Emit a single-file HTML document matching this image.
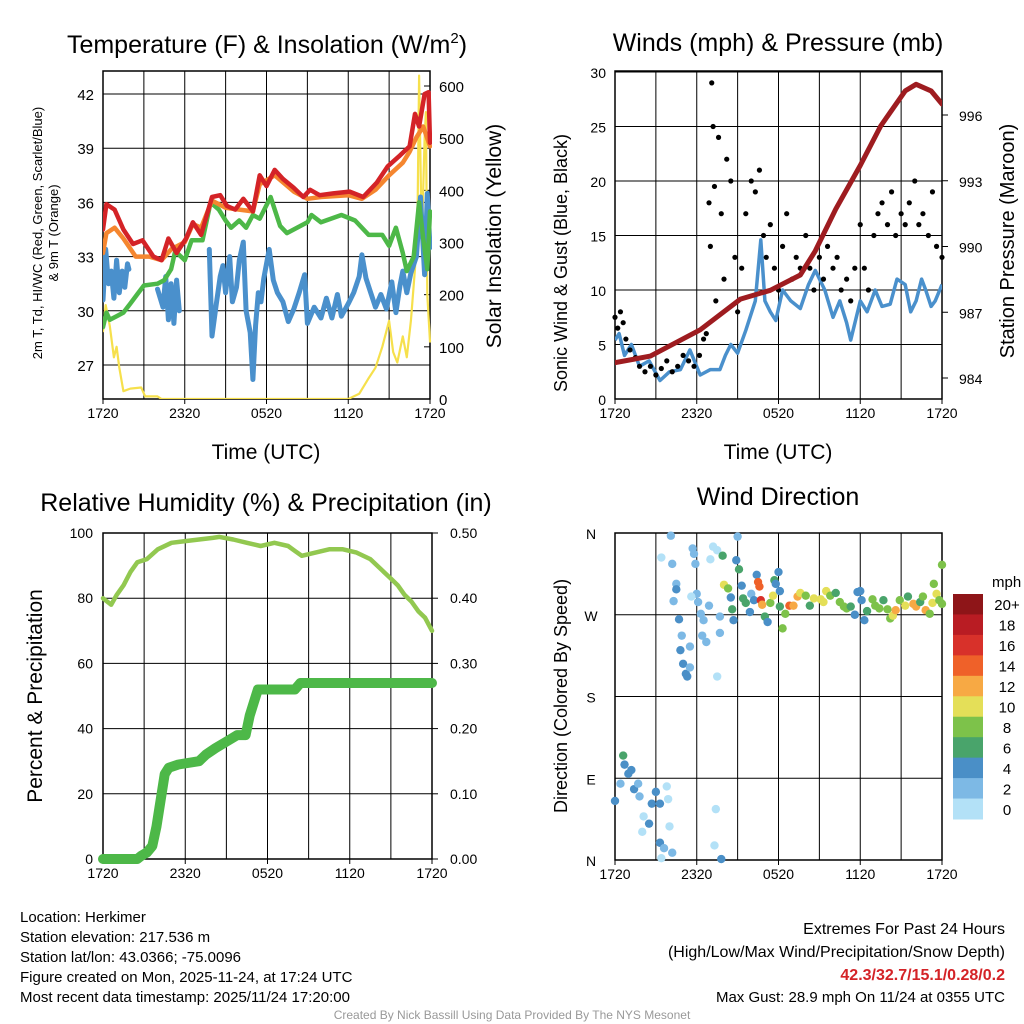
<!DOCTYPE html>
<html><head><meta charset="utf-8"><style>
body{margin:0;background:#fff}
svg{display:block;font-family:"Liberation Sans",sans-serif}
</style></head><body>
<svg id="s" width="1024" height="1024" xmlns="http://www.w3.org/2000/svg"></svg>
<script>
// ---------- DATA ----------
const timeTickLabels=["1720","2320","0520","1120","1720"];
const tempTicks=[27,30,33,36,39,42];
const solarTicks=[0,100,200,300,400,500,600];
const redH=[0,0.25,0.85,1.5,2.2,2.9,3.7,4.3,4.8,5.4,6.1,6.6,7.2,8,8.6,9.1,9.7,10.3,11,11.5,12,12.6,13.2,14,14.7,15.2,15.9,16.9,18.1,19.1,20.1,20.9,21.8,22.5,22.9,23.2,23.6,23.9,24];
const redV=[34.5,35.9,35.6,34.5,33.7,33.9,33.0,32.8,34.0,33.2,34.0,34.9,34.2,36.3,36.4,35.8,35.6,36.2,35.5,37.5,36.9,37.8,37.3,36.8,36.3,36.7,36.4,36.5,36.6,36.3,37.1,38.0,38.6,39.1,40.9,40.2,42.0,42.1,39.3];
const orH=[0,0.25,0.85,1.5,2.4,3.4,4.3,5,6,6.6,7.2,8,9,10,11,11.5,12.6,14,15,16,18,19,20,21,22,22.5,23,23.5,24];
const orV=[33.2,34.3,34.6,34.0,33.0,33.0,32.8,33.4,33.8,34.8,34.6,36.1,35.7,35.6,35.5,37.0,37.5,36.6,36.2,36.3,36.4,36.2,36.7,37.5,38.2,38.8,39.6,40.2,39.1];
const grH=[0,0.25,0.5,1,1.5,2,2.5,3,4,4.5,5,5.3,6,6.5,7.3,7.9,8.5,9,9.4,10,10.5,11,11.5,12.3,13,13.5,15,15.3,16,17.5,18.5,19.5,20.5,21,21.5,22,22.3,22.8,23.2,23.5,23.8,24];
const grV=[29.1,29.9,29.5,29.7,29.9,30.4,30.9,31.4,31.5,31.7,32.3,33.3,32.8,33.9,33.9,36.0,35.6,35.0,34.6,35.0,34.6,35.3,35.1,36.3,34.7,34.3,34.9,35.3,34.9,35.3,35.0,34.2,34.2,33.6,34.6,33.2,32.2,33.0,36.0,34.0,32.3,35.5];
const tdH=[0,0.2,0.4,0.6,0.8,1.0,1.2,1.4,1.6,1.8,1.9,null,4.0,4.4,4.6,4.8,5.0,5.2,5.4,5.6,null,7.8,8.0,8.3,8.6,8.8,9.0,9.3,9.5,9.8,10.0,10.3,10.5,10.8,11.0,11.2,11.4,11.6,11.8,12.0,12.2,12.5,12.8,13.2,13.6,14.0,14.4,14.8,15.0,15.5,16.0,16.4,16.8,17.2,17.5,18.0,18.4,18.8,19.0,19.3,19.6,20.0,20.4,20.8,21.2,21.5,21.8,22.0,22.3,22.6,23.0,23.3,23.6,23.8,24];
const tdV=[30.6,33.4,31.5,32.2,30.7,32.8,31.0,32.2,31.3,32.6,32.3,null,31.2,30.2,31.9,29.5,31.5,29.3,31.7,30.0,null,33.4,28.6,30.3,31.9,32.5,31.0,33.0,30.5,31.3,32.8,33.8,30.0,28.8,26.2,29.2,31.0,30.5,31.8,32.6,33.4,31.7,31.0,30.5,29.4,30.1,31.0,32.0,29.3,30.2,29.6,30.7,29.6,30.9,29.7,30.4,31.0,31.9,33.1,31.8,31.1,30.2,30.9,30.1,31.6,29.9,31.4,32.2,31.0,32.1,33.0,36.3,32.0,36.5,33.5];
const solH=[0,0.2,0.5,0.8,1.0,1.2,1.5,2,2.8,3.1,4,4.3,18,18.8,19.5,20,20.5,21,21.3,21.6,22,22.3,22.6,22.9,23.1,23.2,23.4,23.6,23.7,23.8,24];
const solV=[130,180,140,80,100,60,15,20,22,5,5,0,0,10,40,60,100,150,90,70,120,80,150,250,380,620,300,500,550,200,110];

const windTicks=[0,5,10,15,20,25,30];
const presTicks=[984,987,990,993,996];
const presH=[0,2.6,6.25,9.2,11.4,13.6,14.7,16.2,18.0,19.5,21.3,22.1,23.2,24];
const presV=[984.7,985.0,986.2,987.6,988.0,988.7,989.8,991.7,993.7,995.5,997.1,997.4,997.1,996.5];
const windH=[0,0.3,0.7,1.2,1.8,2.5,3.3,4.0,4.8,5.5,6.25,7.0,7.7,8.1,8.5,9.0,9.6,10.3,10.7,11.0,11.4,11.8,12.3,12.9,13.6,14.2,14.7,15.4,16.0,16.5,17.0,17.3,18.0,18.5,19.1,19.6,20.2,20.7,21.3,21.7,22.1,22.5,22.8,23.2,23.5,24];
const windV=[5.4,6,4,5,3,3.5,1.7,2.5,2.7,4.5,2.2,2.7,2.7,4,5,4.2,6.3,9,14.6,9,8,7.2,10,9,8.3,10.5,11.8,10,7.5,9,7,5.4,9,8,10,8.5,8.7,11,10.5,8,9,11,10,8.5,9,10.5];
const gustH=[0,0.2,0.4,0.6,0.8,1.1,1.5,1.8,2.2,2.6,3,3.4,3.8,4.2,4.6,5,5.4,5.8,6.2,6.5,6.7,6.9,7.0,7.1,7.2,7.3,7.4,7.6,7.8,8.0,8.2,8.5,8.8,9.0,9.3,9.6,10.0,10.3,10.6,10.9,11.1,11.4,11.7,12,12.3,12.6,13,13.3,13.6,14,14.3,14.6,15,15.3,15.6,16,16.3,16.6,17,17.3,17.6,18,18.3,18.6,19,19.3,19.6,20,20.3,20.6,21,21.3,21.6,22,22.3,22.6,23,23.3,23.6,24];
const gustV=[7.5,6.5,8,7,5.5,4.5,3.8,3,2.5,3,2.2,2.8,3.5,2.5,3,4,3.5,3,4,5.5,6,18,14,29,25,19.5,9,24,17,11,22,20,13,8,12,17,20,19,21,15,13,16,12,10,14,17,11,13,12,15,12,10,13,11,14,12,13,10,11,9,12,16,12,10,15,17,18,16,19,15,17,16,18,20,16,17,15,19,14,13];

const rhTicks=[0,20,40,60,80,100];
const pcpTicks=["0.00","0.10","0.20","0.30","0.40","0.50"];
const rhH=[0,0.3,0.6,1,1.5,2,2.5,3.2,4,5,6,7,8,8.5,9.5,10.5,11.5,12.5,13.5,14,14.5,15.5,16.5,17.5,18.5,19.5,20.5,21,21.5,22,22.5,23,23.5,24];
const rhV=[80,79,78,81,84,88,91,92,95,97,97.5,98,98.5,98.8,98,97,96,97,96,94.5,93,94,95,95,94,92,88,86,84,81,79,76,74,70];
const pcpH=[0,2.5,2.8,3.2,3.6,3.9,4.2,4.5,4.8,5.5,7,7.5,8.2,9,9.8,10.4,10.7,11,11.3,11.6,14,14.4,24];
const pcpV=[0,0,0.005,0.01,0.02,0.05,0.09,0.13,0.14,0.145,0.15,0.16,0.17,0.18,0.19,0.19,0.22,0.24,0.26,0.26,0.26,0.27,0.27];

const dirLabels=["N","E","S","W","N"];
const speedLabels=["20+","18","16","14","12","10","8","6","4","2","0"];
const speedColors=["#b3e1f7","#7db9e5","#4a8fc7","#49a46b","#7dc24a","#e4df58","#f7a944","#ef6129","#d8312a","#b91c23","#8e1518"];
const dirH=[0,0.4,0.6,0.7,0.98,1.2,1.4,1.7,1.8,2.1,2.5,2.0,2.7,3.0,3.3,3.8,3.9,4.0,3.3,3.6,3.4,4.2,3.4,4.1,4.2,4.5,4.5,4.3,4.7,4.9,4.8,5.0,5.2,5.3,5.5,5.5,5.7,5.8,5.9,6.0,5.6,6.1,6.3,6.5,6.4,6.7,6.9,7.0,7.2,7.5,7.4,7.3,7.5,7.7,7.7,7.8,7.9,8.0,8.3,8.5,8.6,8.7,8.9,9.0,9.1,9.3,9.4,9.6,9.9,10.0,10.2,10.4,10.5,10.6,10.7,10.8,11.0,11.2,11.4,11.6,11.7,11.8,12.0,12.1,12.1,12.3,12.5,12.8,13.1,13.4,13.6,14.0,14.3,14.6,15.1,15.3,15.5,15.8,16.2,16.5,16.8,17.0,17.3,17.6,17.8,18.0,18.1,18.3,18.5,18.9,19.1,19.4,19.7,20.0,20.2,20.4,20.6,20.9,21.3,21.5,21.9,22.1,22.4,22.6,22.8,23.1,23.3,23.4,23.6,23.8,24.0,24.0];
const dirV=[65,84,115,105,95,99,78,84,70,48,40,31,62,75,62,81,67,37,19,13,2,8,333,357,326,304,298,285,265,247,231,216,205,202,212,235,343,337,326,293,290,284,271,264,247,240,280,331,345,341,56,16,202,268,250,1,335,303,299,289,276,264,330,356,320,302,288,283,273,293,286,314,306,301,286,281,268,262,283,291,308,304,317,296,279,255,271,280,280,290,294,291,280,288,287,284,296,291,294,284,279,277,279,270,295,296,286,264,274,287,280,277,286,276,266,269,275,286,280,290,282,279,284,290,275,271,283,304,293,286,282,325];
const dirS=[4,3,6,4,4,4,4,3,2,0,4,0,4,4,4,0,0,0,4,2,0,2,0,2,2,2,4,2,4,2,4,4,4,4,2,2,2,2,2,2,0,2,2,2,2,2,2,0,0,0,0,0,0,2,2,4,6,10,8,4,6,4,4,2,6,4,6,6,4,2,4,4,14,14,16,12,6,4,8,10,6,4,4,4,6,8,8,14,12,12,10,8,6,10,10,10,10,8,6,8,8,8,6,4,4,4,4,4,6,8,8,8,6,8,8,10,12,8,10,6,12,12,6,8,12,8,10,8,10,8,8,8];

// ---------- DRAW ----------
const NS="http://www.w3.org/2000/svg";
const svg=document.getElementById('s');
function el(tag,attrs,parent,text){const e=document.createElementNS(NS,tag);for(const k in attrs)e.setAttribute(k,attrs[k]);if(text!==undefined)e.textContent=text;(parent||svg).appendChild(e);return e;}
function grp(name){const g=document.createElementNS(NS,'g');


svg.appendChild(g);return g;}
function pathD(hs,vs,xf,yf){let d="",pen=false;for(let i=0;i<hs.length;i++){if(hs[i]===null){pen=false;continue;}d+=(pen?"L":"M")+xf(hs[i]).toFixed(1)+","+yf(vs[i]).toFixed(1);pen=true;}return d;}
function lin(d0,d1,r0,r1){return v=>r0+(v-d0)*(r1-r0)/(d1-d0);}

function frame(g,x0,y0,x1,y1,hGrid){
  for(let i=0;i<=8;i++){const x=x0+(x1-x0)*i/8;const l=el('line',{x1:x,y1:y0,x2:x,y2:y1,stroke:'#000','stroke-width':1},g);
    
    }
  hGrid.forEach(y=>{const l=el('line',{x1:x0,y1:y,x2:x1,y2:y,stroke:'#000','stroke-width':1},g);
    
    });
  const r=el('rect',{x:x0,y:y0,width:x1-x0,height:y1-y0,fill:'none',stroke:'#000','stroke-width':1.5},g);
  
  
  timeTickLabels.forEach((t,i)=>{const x=x0+(x1-x0)*i/4;const tx=el('text',{x:x,y:y1+19,'font-size':14,'text-anchor':'middle'},g,t);
    
    
    el('line',{x1:x,y1:y1,x2:x,y2:y1+5,stroke:'#000'},g);});
}
function txt(g,name,x,y,s,size,opts){const a=Object.assign({x:x,y:y,'font-size':size},opts||{});const t=el('text',a,g,s);
  
  return t;}
function vtxt(g,name,x,y,s,size,rot){const t=el('text',{x:0,y:0,'font-size':size,'text-anchor':'middle',transform:`translate(${x},${y}) rotate(${rot})`},g,s);
  
  return t;}

// Panel 1
(function(){
 const g=grp('temperature-panel');
 const x0=103,x1=430,y0=71,y1=399;
 const X=lin(0,24,x0,x1), Y=lin(27,42,365,94), S=lin(0,600,399,86);
 frame(g,x0,y0,x1,y1,tempTicks.map(Y));
 tempTicks.forEach(t=>{txt(g,'temp-tick-label',x0-9,Y(t)+6,String(t),15,{'text-anchor':'end'});});
 solarTicks.forEach(t=>{txt(g,'solar-tick-label',x1+9,S(t)+6,String(t),15,{});el('line',{x1:x1-6,y1:S(t),x2:x1,y2:S(t),stroke:'#000'},g);});
 const clip=el('clipPath',{id:'c1'},g);el('rect',{x:x0,y:y0-10,width:x1-x0+2,height:y1-y0+10},clip);
 const L=(h,v,yf,c,w,n)=>{const p=el('path',{d:pathD(h,v,X,yf),fill:'none',stroke:c,'stroke-width':w,'stroke-linejoin':'round','stroke-linecap':'round','clip-path':'url(#c1)'},g);
   
   };
 L(solH,solV,S,'#f6e04c',2.2,'solar-line');
 L(tdH,tdV,Y,'#4a90cc',5,'dewpoint-line');
 L(grH,grV,Y,'#4db848',4.5,'windchill-line');
 L(orH,orV,Y,'#f5862f',4.5,'temp-9m-line');
 L(redH,redV,Y,'#d42327',4.5,'temp-2m-line');
 const t=txt(g,'temp-panel-title',267,53,'Temperature (F) & Insolation (W/m',25,{'text-anchor':'middle'});
 const sup=el('tspan',{'font-size':15,dy:-10},t,'2');
 el('tspan',{'font-size':25,dy:10},t,')');
 vtxt(g,'temp-axis-title',42,233,'2m T, Td, HI/WC (Red, Green, Scarlet/Blue)',13,-90);
 vtxt(g,'temp-axis-title-2',58,233,'& 9m T (Orange)',13,-90);
 vtxt(g,'solar-axis-title',501,236,'Solar Insolation (Yellow)',21,-90);
 txt(g,'time-axis-title',266,459,'Time (UTC)',21,{'text-anchor':'middle'});
})();

// Panel 2
(function(){
 const g=grp('wind-panel');
 const x0=615,x1=942,y0=71,y1=399;
 const X=lin(0,24,x0,x1), Y=lin(0,30,399,72), P=lin(984,996,378,115);
 frame(g,x0,y0,x1,y1,windTicks.map(Y));
 windTicks.forEach(t=>txt(g,'wind-tick-label',x0-9,Y(t)+6,String(t),14,{'text-anchor':'end'}));
 presTicks.forEach(t=>{txt(g,'pressure-tick-label',x1+17,P(t)+6,String(t),14,{});el('line',{x1:x1,y1:P(t),x2:x1+6,y2:P(t),stroke:'#000'},g);});
 const clip=el('clipPath',{id:'c2'},g);el('rect',{x:x0,y:y0,width:x1-x0,height:y1-y0},clip);
 const wl=el('path',{d:pathD(windH,windV,X,Y),fill:'none',stroke:'#4a90cc','stroke-width':3.5,'stroke-linejoin':'round','clip-path':'url(#c2)'},g);
 
 
 gustH.forEach((h,i)=>{const c=el('circle',{cx:X(h),cy:Y(gustV[i]),r:2.6,fill:'#000'},g);
   
   });
 const pl=el('path',{d:pathD(presH,presV,X,P),fill:'none',stroke:'#9e1c20','stroke-width':5,'stroke-linejoin':'round','stroke-linecap':'round','clip-path':'url(#c2)'},g);
 
 
 txt(g,'wind-panel-title',778,51,'Winds (mph) & Pressure (mb)',25,{'text-anchor':'middle'});
 vtxt(g,'wind-axis-title',567,263,'Sonic Wind & Gust (Blue, Black)',18,-90);
 vtxt(g,'pressure-axis-title',1014,241,'Station Pressure (Maroon)',20,-90);
 txt(g,'time-axis-title',778,459,'Time (UTC)',21,{'text-anchor':'middle'});
})();

// Panel 3
(function(){
 const g=grp('humidity-panel');
 const x0=103,x1=432,y0=533,y1=859;
 const X=lin(0,24,x0,x1), Y=lin(0,100,859,533), Q=lin(0,0.5,859,533);
 frame(g,x0,y0,x1,y1,rhTicks.map(Y));
 rhTicks.forEach(t=>txt(g,'rh-tick-label',x0-10,Y(t)+5,String(t),14,{'text-anchor':'end'}));
 pcpTicks.forEach((t,i)=>{txt(g,'precip-tick-label',x1+18,Y(i*20)+5,t,14,{});el('line',{x1:x1,y1:Y(i*20),x2:x1+6,y2:Y(i*20),stroke:'#000'},g);});
 const pl=el('path',{d:pathD(pcpH,pcpV,X,Q),fill:'none',stroke:'#4db848','stroke-width':10,'stroke-linejoin':'round','stroke-linecap':'round'},g);
 
 
 const rl=el('path',{d:pathD(rhH,rhV,X,Y),fill:'none',stroke:'#92c850','stroke-width':4.5,'stroke-linejoin':'round','stroke-linecap':'round'},g);
 
 
 txt(g,'humidity-panel-title',266,511,'Relative Humidity (%) & Precipitation (in)',25,{'text-anchor':'middle'});
 vtxt(g,'humidity-axis-title',42,696,'Percent & Precipitation',21,-90);
})();

// Panel 4
(function(){
 const g=grp('wind-direction-panel');
 const x0=615,x1=942,y0=533,y1=860;
 const X=lin(0,24,x0,x1), Y=lin(0,360,860,533);
 frame(g,x0,y0,x1,y1,[0,90,180,270,360].map(Y));
 dirLabels.forEach((t,i)=>txt(g,'direction-tick-label',x0-24,Y(i*90)+6,t,14,{'text-anchor':'middle'}));
 dirH.forEach((h,i)=>{const c=el('circle',{cx:X(h),cy:Y(dirV[i]),r:4.2,fill:speedColors[Math.min(10,Math.floor(dirS[i]/2))]},g);
   
   });
 txt(g,'direction-panel-title',778,505,'Wind Direction',25,{'text-anchor':'middle'});
 vtxt(g,'direction-axis-title',567,696,'Direction (Colored By Speed)',18,-90);
 const lg=grp('speed-colorbar');
 const bh=(819-594)/11;
 for(let i=0;i<11;i++){const y=594+i*bh;const r=el('rect',{x:953,y:y,width:30,height:bh+0.5,fill:speedColors[10-i]},lg);
   
   
   txt(lg,'colorbar-label',1007,y+bh/2+6,speedLabels[i],15,{'text-anchor':'middle'});}
 txt(lg,'colorbar-title',992,587,'mph',15,{});
})();
// ---------- footer ----------
(function(){
 const g=grp('footer-info');
 const lines=["Location: Herkimer","Station elevation: 217.536 m","Station lat/lon: 43.0366; -75.0096","Figure created on Mon, 2025-11-24, at 17:24 UTC","Most recent data timestamp: 2025/11/24 17:20:00"];
 lines.forEach((l,i)=>txt(g,'station-info-line',20,922+i*20,l,15,{}));
 txt(g,'extremes-title',1005,934,'Extremes For Past 24 Hours',16,{'text-anchor':'end'});
 txt(g,'extremes-subtitle',1005,957,'(High/Low/Max Wind/Precipitation/Snow Depth)',16,{'text-anchor':'end'});
 txt(g,'extremes-values',1005,980,'42.3/32.7/15.1/0.28/0.2',16,{'text-anchor':'end',fill:'#d42327','font-weight':'bold'});
 txt(g,'max-gust',1005,1002,'Max Gust: 28.9 mph On 11/24 at 0355 UTC',15,{'text-anchor':'end'});
 txt(g,'credits',512,1019,'Created By Nick Bassill Using Data Provided By The NYS Mesonet',12,{'text-anchor':'middle',fill:'#999'});
})();
</script>
</body></html>
